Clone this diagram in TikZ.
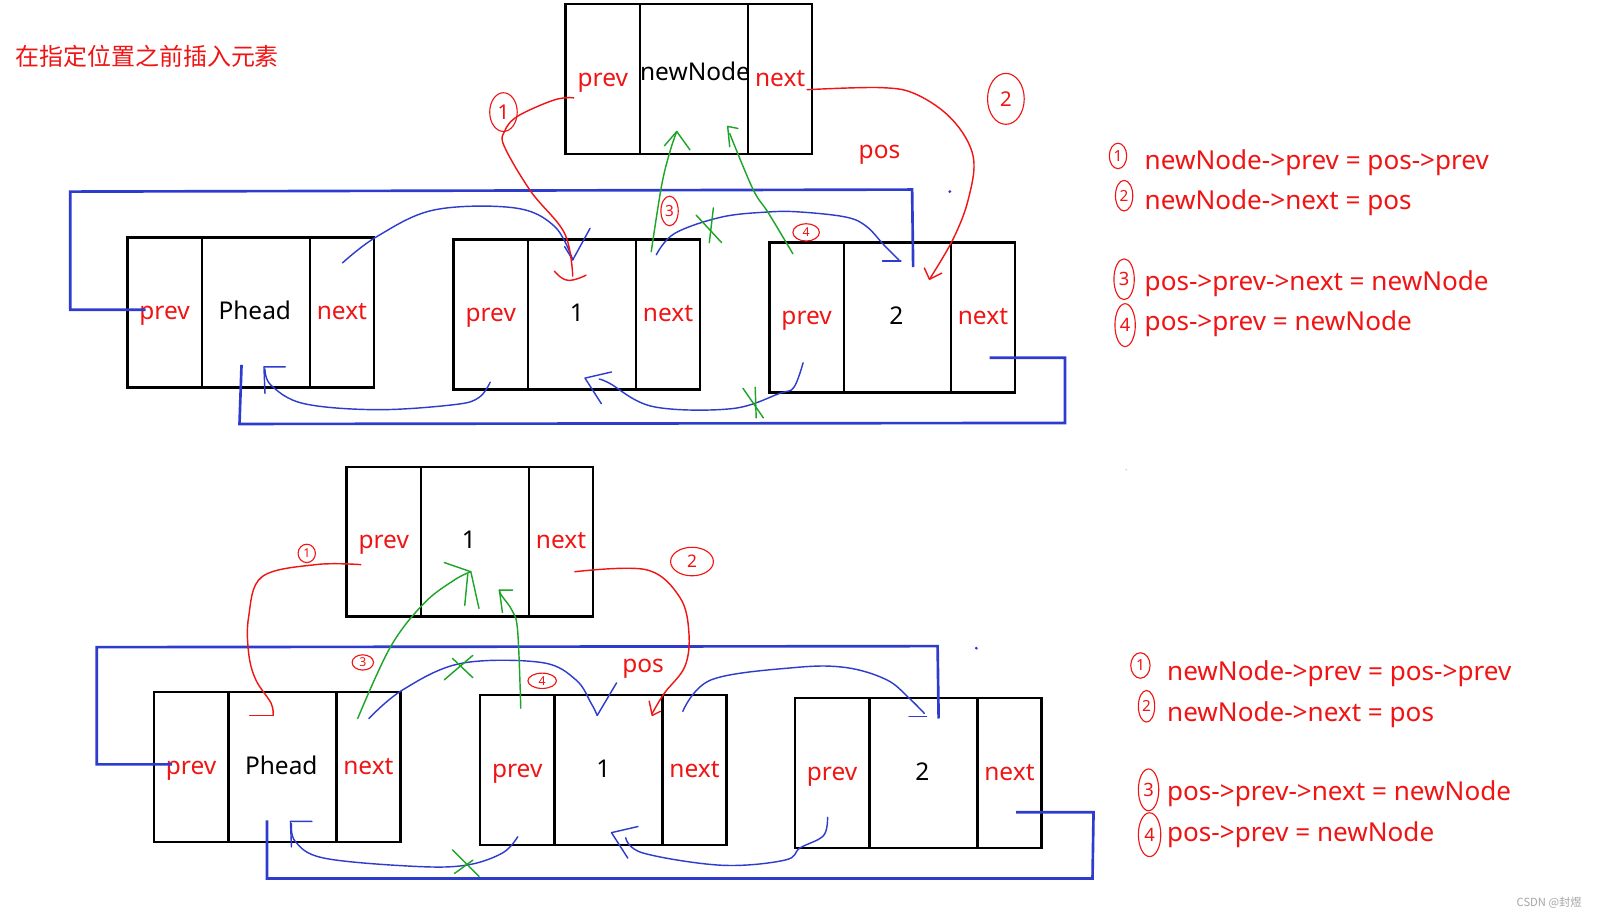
\documentclass[tikz,border=0pt]{standalone}
\usepackage{fontspec}
\setmainfont{Noto Sans}
\newfontfamily\cjk{Noto Sans CJK SC}
\usetikzlibrary{shapes.geometric}
\definecolor{myred}{RGB}{240,20,20}
\definecolor{myblue}{RGB}{45,60,205}
\definecolor{mygreen}{RGB}{30,165,40}
\tikzset{
  cell/.style={draw=black, line width=2.4pt, minimum height=147pt, inner sep=0pt, outer sep=0pt, anchor=north west},
  lbl/.style={font=\fontsize{24}{28}\selectfont, inner sep=0pt, text height=16pt, text depth=2pt},
  rlbl/.style={lbl, text=myred},
  blbl/.style={lbl, text=black},
  eqlbl/.style={font=\fontsize{25.6}{30}\selectfont, inner sep=0pt, text=myred, anchor=west},
  bigloop/.style={myblue, line width=2.6pt, line join=miter},
  bcurve/.style={myblue, line width=1.4pt, line cap=round, line join=round},
  rcurve/.style={myred, line width=1.4pt, line cap=round, line join=round},
  gcurve/.style={mygreen, line width=1.4pt, line cap=round, line join=round},
  clab/.style={ellipse, draw=myred, line width=1.1pt, inner sep=0pt, text=myred, font=\fontsize{12}{12}\selectfont},
}
\newcommand{\dlnode}[7]{%
  \node[cell, minimum width=73pt] (#1p) at (#2,#3) {};
  \node[cell, minimum width=#4pt] (#1d) at (#1p.north east) {};
  \node[cell, minimum width=63pt] (#1n) at (#1d.north east) {};
  \node[rlbl] (#1pl) at (#1p.center) {#5};
  \node[blbl] (#1dl) at ([xshift=#6pt]#1d.center) {#7};
  \node[rlbl] (#1nl) at (#1n.center) {next};
}
\begin{document}
\begin{tikzpicture}[x=1pt,y=-1pt]
\useasboundingbox (0,0) rectangle (1568,900);
\fill[white] (0,0) rectangle (1568,900);

% title
\node[anchor=west, inner sep=0pt, text=myred, font=\cjk\fontsize{23.5}{24}\selectfont] (title) at (15,55) {在指定位置之前插入元素};

% ================= TOP =================
\dlnode{tn}{555}{4}{106}{prev}{0}{}
\node[blbl] (tnlabel) at (682,72) {newNode};
\dlnode{th}{125}{233}{106}{prev}{-1}{Phead}
\dlnode{ta}{445}{235}{106}{prev}{-5}{1}
\dlnode{tb}{755}{238}{105}{prev}{-1}{2}
\node[rlbl] (tpos) at (863,149) {pos};

% blue loops
\draw[bigloop] (143,304) -- (69,304) -- (69,188) -- (895,186) -- (896,262);
\draw[bigloop] (971,351) -- (1045,351) -- (1045,415) -- (235,416) -- (237,358);
\fill[myblue] (932,188) circle (1.5);

% blue curves
\draw[bcurve] plot[smooth, tension=0.6] coordinates {(336,258) (370,232) (426,206) (505,204) (544,222) (562,255)};
\draw[bcurve] (579,224) -- (562,255) -- (554,242);
\draw[bcurve] plot[smooth, tension=0.6] coordinates {(644,250) (662,229) (708,213) (754,208) (785,208) (830,213) (850,222) (867,240) (882,255)};
\draw[bcurve] (866,256) -- (884,256);
\draw[bcurve] plot[smooth, tension=0.6] coordinates {(788,356) (779,380) (765,386) (718,401) (641,399) (598,376) (588,372)};
\draw[bcurve] (600,365) -- (574,371) -- (590,396);
\draw[bcurve] plot[smooth, tension=0.6] coordinates {(481,375) (470,390) (446,397) (370,402) (298,396) (266,378) (260,362)};
\draw[bcurve] (280,360) -- (259,360) -- (260,386);

% red curves
\draw[rcurve] plot[smooth, tension=0.6] coordinates {(563,96) (544,98) (508,114) (495,129) (495,144) (521,188) (554,229) (562,271)};
\draw[rcurve] plot[smooth, tension=0.8] coordinates {(544,266) (557,275) (575,270)};
\draw[rcurve] plot[smooth, tension=0.6] coordinates {(792,88) (865,86) (900,93) (935,118) (955,154) (950,196) (935,235) (912,274)};
\draw[rcurve] (907,263) -- (912,274) -- (924,268);
\node[clab, minimum width=27pt, minimum height=38pt, font=\fontsize{20}{20}\selectfont] (tc1) at (494,110) {1};
\node[clab, minimum width=36pt, minimum height=50pt, font=\fontsize{20}{20}\selectfont] (tc2) at (987,97) {2};

% green curves
\draw[gcurve] plot[smooth, tension=0.6] coordinates {(639,247) (649,183) (657,150) (664,129)};
\draw[gcurve] (652,143) -- (664,129) -- (677,147);
\draw[gcurve] plot[smooth, tension=0.6] coordinates {(778,249) (754,209) (739,186) (716,131)};
\draw[gcurve] (716,144) -- (714,124) -- (724,126);
\draw[gcurve] (683,211) -- (708,238);
\draw[gcurve] (700,204) -- (696,238);
\draw[gcurve] (729,381) -- (749,410);
\draw[gcurve] (741,380) -- (742,410);
\node[clab, minimum width=17pt, minimum height=29pt, font=\fontsize{15}{15}\selectfont] (tc3) at (657,207) {3};
\node[clab, minimum width=26pt, minimum height=17pt] (tc4) at (791,228) {4};

% equations top
\node[clab, minimum width=17pt, minimum height=25pt, font=\fontsize{15}{15}\selectfont] (e1c) at (1097,153) {1};
\node[eqlbl] (e1) at (1123,160) {newNode->prev = pos->prev};
\node[clab, minimum width=17pt, minimum height=30pt, font=\fontsize{15}{15}\selectfont] (e2c) at (1103,192) {2};
\node[eqlbl] (e2) at (1123,199) {newNode->next = pos};
\node[clab, minimum width=20pt, minimum height=40pt, font=\fontsize{18}{18}\selectfont] (e3c) at (1103,274) {3};
\node[eqlbl] (e3) at (1123,278) {pos->prev->next = newNode};
\node[clab, minimum width=20pt, minimum height=42pt, font=\fontsize{18}{18}\selectfont] (e4c) at (1104,319) {4};
\node[eqlbl] (e4) at (1123,318) {pos->prev = newNode};

% ================= BOTTOM =================
\dlnode{bn}{340}{458}{106}{prev}{-6}{1}
\dlnode{bh}{151}{679}{106}{prev}{-1}{Phead}
\dlnode{ba}{471}{682}{106}{prev}{-5}{1}
\dlnode{bb}{780}{685}{106}{prev}{-1}{2}
\node[rlbl] (bpos) at (631,653) {pos};

% blue loops
\draw[bigloop] (169,750) -- (95,750) -- (95,635) -- (920,634) -- (921,705);
\draw[bigloop] (997,797) -- (1073,797) -- (1072,862) -- (262,862) -- (262,805);
\fill[myblue] (958,636) circle (1.5);
\fill[gray!60] (1105,461) circle (0.7);

% blue curves
\draw[bcurve] plot[smooth, tension=0.6] coordinates {(362,705) (395,677) (452,651) (531,650) (565,667) (580,690) (586,702)};
\draw[bcurve] (605,670) -- (586,702);
\draw[bcurve] plot[smooth, tension=0.6] coordinates {(670,698) (698,667) (780,655) (830,655) (870,667) (892,685) (907,700)};
\draw[bcurve] (892,703) -- (909,703);
\draw[bcurve] plot[smooth, tension=0.6] coordinates {(812,802) (808,820) (785,832) (770,844) (708,849) (631,837) (614,822)};
\draw[bcurve] (626,811) -- (600,817) -- (616,842);
\draw[bcurve] plot[smooth, tension=0.6] coordinates {(508,821) (493,837) (457,849) (405,850) (318,842) (290,826) (286,808)};
\draw[bcurve] (306,806) -- (285,806) -- (286,831);

% red curves
\draw[rcurve] plot[smooth, tension=0.6] coordinates {(354,554) (310,554) (257,566) (244,605) (244,641) (251,667) (266,690) (268,702)};
\draw[rcurve] (268,702) -- (245,702);
\draw[rcurve] plot[smooth, tension=0.6] coordinates {(564,561) (634,559) (667,586) (676,621) (672,654) (652,680) (640,700)};
\draw[rcurve] (637,688) -- (640,702) -- (648,698);
\node[clab, minimum width=17pt, minimum height=18pt] (bc1) at (301,543) {1};
\node[clab, minimum width=42pt, minimum height=28pt, font=\fontsize{17}{17}\selectfont] (bc2) at (679,551) {2};

% green curves
\draw[gcurve] plot[smooth, tension=0.6] coordinates {(351,705) (383,635) (416,592) (446,569) (462,561)};
\draw[gcurve] (436,552) -- (462,561) -- (470,597);
\draw[gcurve] (459,563) -- (456,594);
\draw[gcurve] plot[smooth, tension=0.6] coordinates {(511,695) (508,620) (503,600) (492,584) (490,579)};
\draw[gcurve] (503,579) -- (490,579) -- (493,601);
\draw[gcurve] (436,667) -- (464,643);
\draw[gcurve] (444,646) -- (464,665);
\draw[gcurve] (444,834) -- (470,860);
\draw[gcurve] (446,857) -- (464,844);
\node[clab, minimum width=21pt, minimum height=15pt] (bc3) at (356,650) {3};
\node[clab, minimum width=28pt, minimum height=15pt] (bc4) at (532,668) {4};

% equations bottom
\node[clab, minimum width=19pt, minimum height=25pt, font=\fontsize{15}{15}\selectfont] (f1c) at (1119,653) {1};
\node[eqlbl] (f1) at (1145,661) {newNode->prev = pos->prev};
\node[clab, minimum width=16pt, minimum height=31pt, font=\fontsize{15}{15}\selectfont] (f2c) at (1125,693) {2};
\node[eqlbl] (f2) at (1145,701) {newNode->next = pos};
\node[clab, minimum width=20pt, minimum height=41pt, font=\fontsize{18}{18}\selectfont] (f3c) at (1127,775) {3};
\node[eqlbl] (f3) at (1145,779) {pos->prev->next = newNode};
\node[clab, minimum width=22pt, minimum height=43pt, font=\fontsize{18}{18}\selectfont] (f4c) at (1128,819) {4};
\node[eqlbl] (f4) at (1145,819) {pos->prev = newNode};

% watermark
\node[inner sep=0pt, text=gray!70, font=\cjk\fontsize{11}{11}\selectfont] (wm) at (1520,886) {CSDN @封煜};
\end{tikzpicture}
\end{document}
